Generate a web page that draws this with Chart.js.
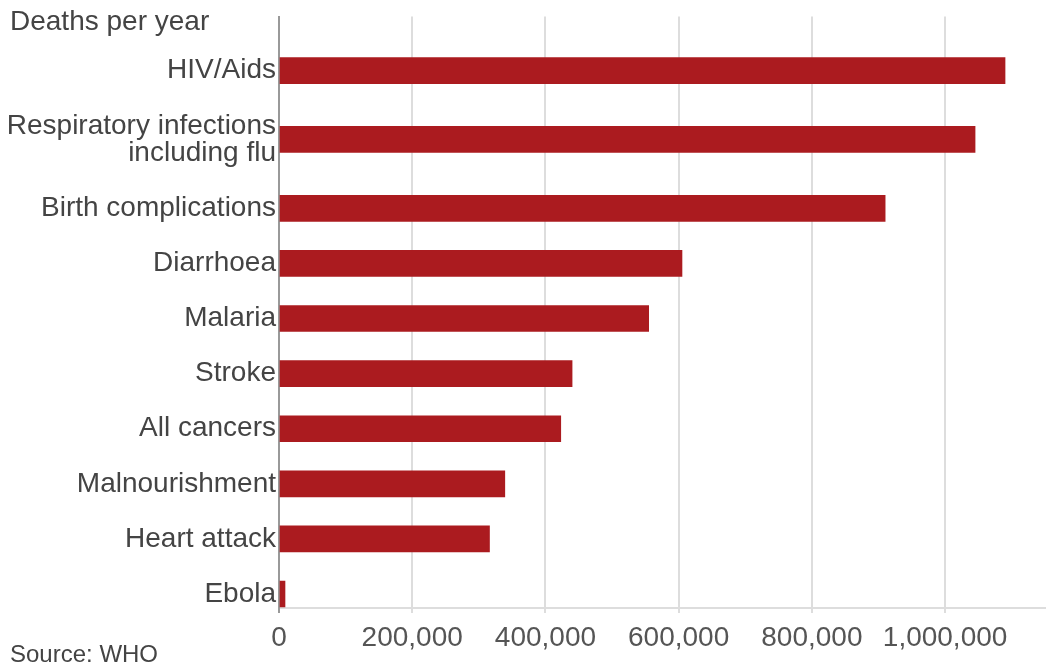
<!DOCTYPE html>
<html>
<head>
<meta charset="utf-8">
<script src="https://cdn.jsdelivr.net/npm/chart.js@4.4.1/dist/chart.umd.min.js"></script>
<style>
  html, body { margin: 0; padding: 0; background: #ffffff; }
  #wrap { position: relative; width: 1048px; height: 666px; }
</style>
</head>
<body>
<div id="wrap"><canvas id="c" width="1048" height="666"></canvas></div>
<script>
// ---- data ----
const categories = [
  'HIV/Aids',
  ['Respiratory infections', 'including flu'],
  'Birth complications',
  'Diarrhoea',
  'Malaria',
  'Stroke',
  'All cancers',
  'Malnourishment',
  'Heart attack',
  'Ebola'
];
const deaths = [1090000, 1045000, 910000, 605000, 555000, 440000, 423000, 339000, 316000, 9000];
const xTickValues = [0, 200000, 400000, 600000, 800000, 1000000];
const titleText = 'Deaths per year';
const sourceText = 'Source: WHO';

// row positions: a two-line label gets a taller row (derived from the labels)
const rowPos = [];
(function () {
  let start = 0;
  categories.forEach(function (c) {
    const lines = Array.isArray(c) ? c.length : 1;
    const band = 1 + 0.5 * (lines - 1);
    rowPos.push(start + band / 2);
    start += band;
  });
})();

const FONT = "'Liberation Sans', Arial, Helvetica, sans-serif";
const TEXT = '#444444';
const BAR = '#ab1b1f';

const textPlugin = {
  id: 'extraText',
  afterDraw(chart) {
    const ctx = chart.ctx;
    ctx.save();
    ctx.fillStyle = TEXT;
    ctx.textAlign = 'left';
    ctx.textBaseline = 'middle';
    ctx.font = '28px ' + FONT;
    ctx.fillText(titleText, 10, 22);
    ctx.font = '24px ' + FONT;
    ctx.fillText(sourceText, 10, 655);
    ctx.restore();
  }
};

new Chart(document.getElementById('c'), {
  type: 'bar',
  data: {
    datasets: [{
      data: deaths.map(function (v, i) { return { x: v, y: rowPos[i] }; }),
      backgroundColor: BAR,
      borderWidth: 0,
      barThickness: 26
    }]
  },
  options: {
    indexAxis: 'y',
    responsive: false,
    animation: false,
    devicePixelRatio: 1,
    layout: { padding: { top: 13, right: 3, left: 0, bottom: 0 } },
    plugins: {
      legend: { display: false },
      tooltip: { enabled: false },
      title: { display: false }
    },
    scales: {
      x: {
        type: 'linear',
        position: 'bottom',
        min: 0,
        max: 1150000,
        offset: false,
        afterBuildTicks: function (scale) {
          scale.ticks = xTickValues.map(function (v) { return { value: v }; });
        },
        afterFit: function (scale) { scale.height = 58; },
        ticks: {
          color: '#555555',
          font: { family: FONT, size: 28 },
          padding: 8,
          maxRotation: 0,
          autoSkip: false,
          callback: function (v) { return Number(v).toLocaleString('en-US'); }
        },
        grid: {
          color: function (ctx) { return ctx.tick && ctx.tick.value === 0 ? '#999999' : '#dddddd'; },
          lineWidth: 2,
          tickLength: 5,
          drawOnChartArea: true
        },
        border: { display: true, color: '#dddddd', width: 2 }
      },
      y: {
        type: 'linear',
        reverse: true,
        offset: false,
        min: -0.48,
        max: 10.254,
        afterBuildTicks: function (scale) {
          scale.ticks = rowPos.map(function (v) { return { value: v }; });
        },
        afterFit: function (scale) { scale.width = 279; },
        ticks: {
          color: TEXT,
          font: { family: FONT, size: 28, lineHeight: 0.97 },
          padding: 3,
          autoSkip: false,
          callback: function (v, i) { return categories[i]; }
        },
        grid: { display: false, drawTicks: false },
        border: { display: true, color: '#999999', width: 2 }
      }
    }
  },
  plugins: [textPlugin]
});
</script>
</body>
</html>
